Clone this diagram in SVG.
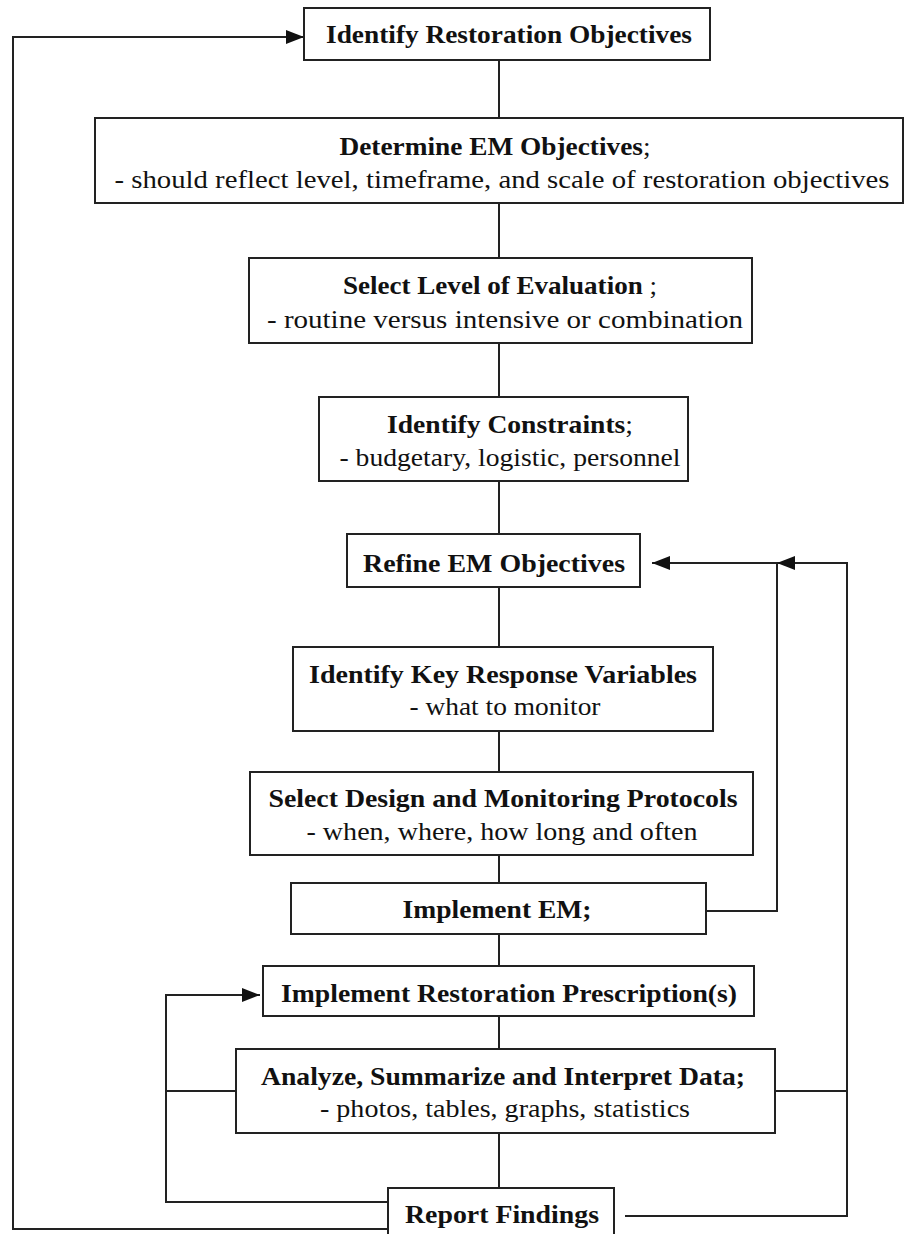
<svg xmlns="http://www.w3.org/2000/svg" width="904" height="1234" viewBox="0 0 904 1234">
<defs>
<marker id="ah" markerWidth="18" markerHeight="14" refX="18" refY="7" orient="auto" markerUnits="userSpaceOnUse">
<path d="M0,0 L18,7 L0,14 Z" fill="#111"/>
</marker>
<style>
.box{fill:#fff;stroke:#222;stroke-width:2}
.t{font-family:"Liberation Serif","Times New Roman",serif;font-size:26px;font-weight:bold;fill:#111;text-anchor:middle}
.s{font-family:"Liberation Serif","Times New Roman",serif;font-size:25px;font-weight:normal;fill:#111;text-anchor:middle}
.n{font-weight:normal}
.c{fill:none;stroke:#222;stroke-width:2}
</style>
</defs>
<rect width="904" height="1234" fill="#fff"/>
<g id="connectors">
<path class="c" d="M499,60 V118 M499,203 V258 M499,343 V397 M499,481 V534 M499,587 V647 M499,731 V772 M499,855 V883 M499,934 V966 M499,1016 V1049 M499,1133 V1188"/>
<path class="c" d="M706,911 H777 V563 H652" marker-end="url(#ah)"/>
<path class="c" d="M625,1216 H847 V563 H777" marker-end="url(#ah)"/>
<path class="c" d="M775,1091 H847"/>
<path class="c" d="M388,1202 H166 V995 H260" marker-end="url(#ah)"/>
<path class="c" d="M236,1091 H166"/>
<path class="c" d="M388,1229 H13 V37 H304" marker-end="url(#ah)"/>
</g>
<g id="n1">
<rect class="box" x="304" y="8" width="406" height="52"/>
<text class="t" x="509" y="43" textLength="366" lengthAdjust="spacingAndGlyphs">Identify Restoration Objectives</text>
</g>
<g id="n2">
<rect class="box" x="95" y="118" width="808" height="85"/>
<text class="t" x="495" y="155" textLength="311" lengthAdjust="spacingAndGlyphs">Determine EM Objectives<tspan class="n">;</tspan></text>
<text class="s" x="502" y="188" textLength="775" lengthAdjust="spacingAndGlyphs">- should reflect level, timeframe, and scale of restoration objectives</text>
</g>
<g id="n3">
<rect class="box" x="249" y="258" width="503" height="85"/>
<text class="t" x="500" y="294" textLength="314" lengthAdjust="spacingAndGlyphs">Select Level of Evaluation <tspan class="n">;</tspan></text>
<text class="s" x="505" y="328" textLength="476" lengthAdjust="spacingAndGlyphs">-  routine versus intensive or combination</text>
</g>
<g id="n4">
<rect class="box" x="319" y="397" width="369" height="84"/>
<text class="t" x="510" y="433" textLength="246" lengthAdjust="spacingAndGlyphs">Identify Constraints<tspan class="n">;</tspan></text>
<text class="s" x="510" y="466" textLength="341" lengthAdjust="spacingAndGlyphs">- budgetary, logistic, personnel</text>
</g>
<g id="n5">
<rect class="box" x="347" y="534" width="293" height="53"/>
<text class="t" x="494" y="572" textLength="262" lengthAdjust="spacingAndGlyphs">Refine EM Objectives</text>
</g>
<g id="n6">
<rect class="box" x="293" y="647" width="420" height="84"/>
<text class="t" x="503" y="683" textLength="388" lengthAdjust="spacingAndGlyphs">Identify Key Response Variables</text>
<text class="s" x="505" y="715" textLength="191" lengthAdjust="spacingAndGlyphs">- what to monitor</text>
</g>
<g id="n7">
<rect class="box" x="250" y="772" width="503" height="83"/>
<text class="t" x="503" y="807" textLength="469" lengthAdjust="spacingAndGlyphs">Select Design and Monitoring Protocols</text>
<text class="s" x="502" y="840" textLength="391" lengthAdjust="spacingAndGlyphs">- when, where,  how long and often</text>
</g>
<g id="n8">
<rect class="box" x="291" y="883" width="415" height="51"/>
<text class="t" x="497" y="918" textLength="189" lengthAdjust="spacingAndGlyphs">Implement EM;</text>
</g>
<g id="n9">
<rect class="box" x="263" y="966" width="491" height="50"/>
<text class="t" x="509" y="1002" textLength="456" lengthAdjust="spacingAndGlyphs">Implement Restoration Prescription(s)</text>
</g>
<g id="n10">
<rect class="box" x="236" y="1049" width="539" height="84"/>
<text class="t" x="503" y="1085" textLength="484" lengthAdjust="spacingAndGlyphs">Analyze, Summarize and Interpret Data;</text>
<text class="s" x="505" y="1117" textLength="370" lengthAdjust="spacingAndGlyphs">- photos, tables,  graphs, statistics</text>
</g>
<g id="n11">
<rect class="box" x="388" y="1188" width="226" height="60"/>
<text class="t" x="502" y="1223" textLength="194" lengthAdjust="spacingAndGlyphs">Report Findings</text>
</g>
</svg>
